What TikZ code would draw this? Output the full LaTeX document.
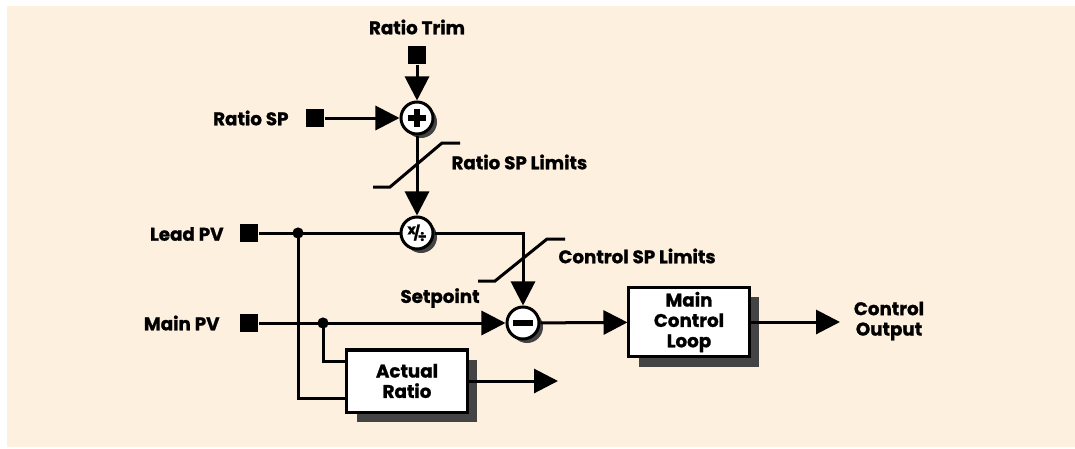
\documentclass[tikz,border=0pt]{standalone}
\usepackage{fontspec}
\setmainfont{Poppins}[BoldFeatures={FakeBold=1.2}]
\usetikzlibrary{arrows.meta,shadows,positioning}
\definecolor{paper}{HTML}{FEF0DE}
\definecolor{shade}{HTML}{444444}

\begin{document}
\begin{tikzpicture}[x=0.025cm, y=-0.025cm,
		font=\fontsize{13}{14.5}\selectfont\bfseries,
		line width=0.075cm,
		>={Triangle[length=0.6cm, width=0.6cm]},
		port/.style={fill=black, minimum size=0.43cm, inner sep=0pt},
		sumnode/.style={circle, draw, fill=white, minimum size=0.8cm, inner sep=0pt,
			drop shadow={shadow xshift=0.1cm, shadow yshift=-0.1cm, fill=shade, opacity=1}},
		block/.style={draw, fill=white, minimum width=3cm, minimum height=1.55cm, align=center,
			drop shadow={shadow xshift=0.25cm, shadow yshift=-0.25cm, fill=shade, opacity=1}},
		joint/.style={circle, fill=black, minimum size=0.28cm, inner sep=0pt},
		lbl/.style={inner sep=0pt, align=center}]
		%%%%% START %%%%%
		
		\useasboundingbox (0, 0) rectangle (1075, 448);
		\fill[paper] (7, 6) rectangle (1075, 447);
		
		\node[lbl] (trimtxt) at (417, 27) {Ratio Trim};
		\node[port] (trim) at (417, 55) {};
		\node[sumnode] (plus) at (417, 118) {};
		\node[port] (spsq) at (315, 118) {};
		\node[lbl, anchor=east] (sptxt) at (290, 118) {Ratio SP};
		\node[lbl, anchor=west] (limtxt) at (450, 162) {Ratio SP Limits};
		
		\node[sumnode] (muldiv) at (417, 233) {\fontsize{10}{10}\selectfont\raisebox{2.5pt}{x}\kern-1.5pt/\kern-1.5pt\raisebox{-2.5pt}{÷}};
		\node[port] (leadsq) at (249, 233) {};
		\node[lbl, anchor=east] (leadtxt) at (225, 234) {Lead PV};
		\node[port] (mainsq) at (249, 323) {};
		\node[lbl, anchor=east] (maintxt) at (221, 323) {Main PV};
		\node[joint] (leaddot) at (298, 233) {};
		\node[joint] (maindot) at (323, 323) {};
		
		\node[sumnode] (minus) at (523, 323) {};
		\node[lbl] (setptxt) at (440, 298) {Setpoint};
		\node[lbl, anchor=west] (ctltxt) at (557, 256) {Control SP Limits};
		\node[block] (mcl) at (689, 322) {Main\\Control\\Loop};
		\node[lbl] (outtxt) at (889, 321) {Control\\Output};
		\node[block] (actual) at (407, 381) {Actual\\Ratio};
		\coordinate (outend) at (840, 322);
		\coordinate (ratioend) at (558, 381);
		
		% signs in the summing junctions
		\draw[line width=0.14cm] ([xshift=-0.23cm]plus.center) -- ([xshift=0.23cm]plus.center)
			([yshift=-0.23cm]plus.center) -- ([yshift=0.23cm]plus.center);
		\draw[line width=0.14cm] ([xshift=-0.26cm]minus.center) -- ([xshift=0.26cm]minus.center);
		
		\draw[->] (trim) -- (plus);
		\draw[->] (spsq) -- (plus);
		\draw[->] (plus) -- (muldiv);
		\draw (leadsq) -- (muldiv);
		\draw[->] (muldiv) -| (minus);
		\draw[->] (mainsq) -- (minus);
		\draw[->] (minus) -- (mcl);
		\draw[->] (mcl) -- (outend);
		\draw[->] (actual) -- (ratioend);
		\draw (leaddot.center) |- ([yshift=-0.425cm]actual.west);
		\draw (maindot.center) |- ([yshift=0.5cm]actual.west);
		
		% limiters
		\draw (373, 187) -- (390, 187) -- (442, 143) -- (460, 143);
		\draw (478, 281) -- (495, 281) -- (547, 239) -- (565, 239);
		
		%%%%% END %%%%%
	\end{tikzpicture}
\end{document}
